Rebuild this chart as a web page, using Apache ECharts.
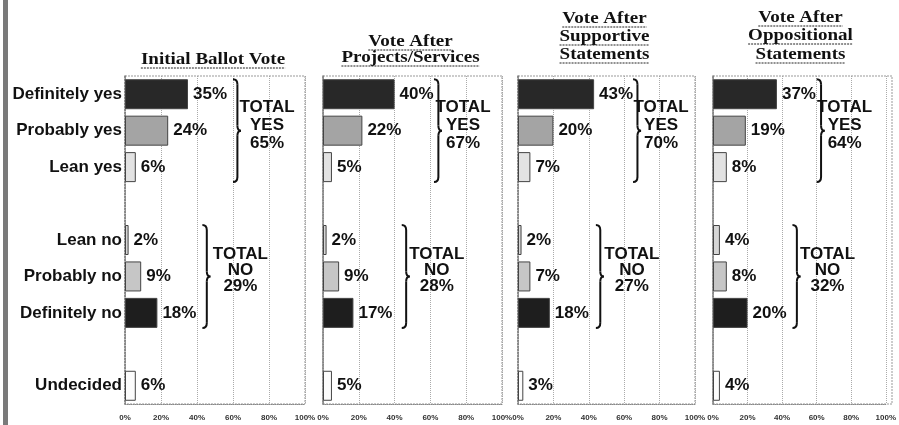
<!DOCTYPE html>
<html>
<head>
<meta charset="utf-8">
<script src="https://cdn.jsdelivr.net/npm/echarts@6/dist/echarts.min.js"></script>
<style>
  html, body { margin: 0; padding: 0; background: #fff; }
  #chart { width: 899px; height: 425px; }
</style>
</head>
<body>
<div id="chart"></div>
<script>
// Response categories (top to bottom)
const responses = ['Definitely yes', 'Probably yes', 'Lean yes', 'Lean no', 'Probably no', 'Definitely no', 'Undecided'];
// Percent per response, one array per ballot stage
const initialVote = [35, 24, 6, 2, 9, 18, 6];
const afterProjects = [40, 22, 5, 2, 9, 17, 5];
const afterSupportive = [43, 20, 7, 2, 7, 18, 3];
const afterOppositional = [37, 19, 8, 4, 8, 20, 4];
// Totals shown next to the braces
const totalYes = [65, 67, 70, 64];
const totalNo = [29, 28, 27, 32];
// Panel titles
const panelTitles = [
    ['Initial Ballot Vote'],
    ['Vote After', 'Projects/Services'],
    ['Vote After', 'Supportive', 'Statements'],
    ['Vote After', 'Oppositional', 'Statements']
];
// x axis tick labels
const tickLabels = ['0%', '20%', '40%', '60%', '80%', '100%'];

const stages = [initialVote, afterProjects, afterSupportive, afterOppositional];

// Layout of the four panels (pixels)
const panelLeft = [125, 323, 518, 713];
const panelWidth = [180, 179, 177, 179];
const panelTop = 76;
const panelHeight = 328;
// where the braces sit, in axis percent
const yesBraceAt = [60, 62, 65, 60];
const noBraceAt = [43, 44, 44, 46];
const textOffset = [34, 29, 28, 28];
const noTextOffset = [38, 35, 36, 35];
// title line centres (y) per panel
const titleY = [[60], [42, 58], [19, 37, 55], [18, 36, 55]];

const barColors = ['#282828', '#a4a4a4', '#e2e2e2', '#d6d6d6', '#c6c6c6', '#1e1e1e', '#fcfcfc'];
const sansFont = '"Liberation Sans", Arial, sans-serif';
const serifFont = '"Liberation Serif", "Times New Roman", serif';
const titleStretch = 1.12;

// y slots: two blank rows separate the groups
const slots = [responses[0], responses[1], responses[2], '', responses[3], responses[4], responses[5], ' ', responses[6]];
const slotIndex = [0, 1, 2, 4, 5, 6, 8];

function slotData(values) {
    const out = slots.map(() => null);
    values.forEach((v, i) => {
        out[slotIndex[i]] = {
            value: v,
            itemStyle: { color: barColors[i] }
        };
    });
    return out;
}

const chart = echarts.init(document.getElementById('chart'));

const grids = [], xAxes = [], yAxes = [], series = [];
stages.forEach((values, i) => {
    grids.push({ left: panelLeft[i], top: panelTop, width: panelWidth[i], height: panelHeight });
    xAxes.push({
        type: 'value', gridIndex: i, min: 0, max: 100, interval: 20,
        axisLine: { show: true, lineStyle: { color: '#888', type: 'dotted' } },
        axisTick: { show: false },
        splitLine: { show: true, lineStyle: { color: '#aaa', type: 'dotted' } },
        axisLabel: {
            formatter: v => tickLabels[v / 20],
            fontSize: 8, fontWeight: 'bold', color: '#333', margin: 10,
            fontFamily: sansFont, showMaxLabel: true, showMinLabel: true
        }
    });
    yAxes.push({
        type: 'category', gridIndex: i, data: slots, inverse: true,
        axisLine: { show: true, lineStyle: { color: '#777', type: 'dotted', width: 1.5 } },
        axisTick: { show: false },
        axisLabel: {
            show: i === 0, fontSize: 17, fontWeight: 'bold', color: '#111',
            fontFamily: sansFont, margin: 3
        }
    });
    series.push({
        type: 'bar', xAxisIndex: i, yAxisIndex: i,
        data: slotData(values),
        barWidth: 30,
        itemStyle: { borderColor: '#444', borderWidth: 1 },
        label: {
            show: true, position: 'right', distance: 5,
            formatter: p => p.value + '%',
            fontSize: 17, fontWeight: 'bold', color: '#111', fontFamily: sansFont
        },
        silent: true
    });
});

chart.setOption({
    animation: false,
    grid: grids,
    xAxis: xAxes,
    yAxis: yAxes,
    series: series
});

// text width for underlines
const measureCtx = document.createElement('canvas').getContext('2d');
measureCtx.font = 'bold 17px ' + serifFont;

// curly brace "}" made of lines and quadratic curves
function braceParts(x, y0, y1, ym) {
    const w = 8, r = 5, mx = x + w * 0.55;
    const st = { stroke: '#111', lineWidth: 2, fill: null };
    const curve = (x1, y1, cx, cy, x2, y2) => ({
        type: 'bezierCurve', silent: true, style: st,
        shape: { x1: x1, y1: y1, cpx1: cx, cpy1: cy, x2: x2, y2: y2 }
    });
    const seg = (x1, y1, x2, y2) => ({
        type: 'line', silent: true, style: st,
        shape: { x1: x1, y1: y1, x2: x2, y2: y2 }
    });
    return [
        curve(x, y0, mx, y0, mx, y0 + r),
        seg(mx, y0 + r, mx, ym - r),
        curve(mx, ym - r, mx, ym, x + w, ym),
        curve(x + w, ym, mx, ym, mx, ym + r),
        seg(mx, ym + r, mx, y1 - r),
        curve(mx, y1 - r, mx, y1, x, y1)
    ];
}

const graphics = [];
// left page border
graphics.push({ type: 'rect', shape: { x: 3, y: 0, width: 5, height: 425 }, style: { fill: '#7a7a7a' }, silent: true });

stages.forEach((values, i) => {
    // panel box
    graphics.push({
        type: 'rect',
        shape: { x: panelLeft[i], y: panelTop, width: panelWidth[i], height: panelHeight },
        style: { fill: null, stroke: '#999', lineWidth: 1, lineDash: [2, 1] },
        silent: true
    });
    // titles (scan is stretched sideways, so stretch the text too)
    const lines = panelTitles[i];
    const cx = panelLeft[i] + panelWidth[i] / 2 - 2;
    lines.forEach((t, k) => {
        const cy = titleY[i][k];
        const w = measureCtx.measureText(t).width * titleStretch;
        graphics.push({
            type: 'text', x: cx, y: cy, scaleX: titleStretch,
            style: { text: t, font: 'bold 17px ' + serifFont, fill: '#111', align: 'center', verticalAlign: 'middle' },
            silent: true
        });
        graphics.push({
            type: 'line', shape: { x1: cx - w / 2, y1: cy + 8, x2: cx + w / 2, y2: cy + 8 },
            style: { stroke: '#222', lineWidth: 1, lineDash: [2, 1] }, silent: true
        });
    });
    // braces with totals
    const px = (x, slot) => chart.convertToPixel({ gridIndex: i }, [x, slot]);
    const yTop = px(0, 0)[1] - 15, yMid = px(0, 1)[1], yBot = px(0, 2)[1] + 15;
    const bx = px(yesBraceAt[i], 0)[0];
    graphics.push(...braceParts(bx, yTop, yBot, yMid));
    graphics.push({
        type: 'text', x: bx + textOffset[i], y: yMid - 5,
        style: {
            text: 'TOTAL\nYES\n' + totalYes[i] + '%', font: 'bold 17px ' + sansFont,
            fill: '#111', align: 'center', verticalAlign: 'middle', lineHeight: 18
        },
        silent: true
    });
    const nTop = px(0, 4)[1] - 15, nMid = px(0, 5)[1], nBot = px(0, 6)[1] + 15;
    const nx = px(noBraceAt[i], 0)[0];
    graphics.push(...braceParts(nx, nTop, nBot, nMid));
    graphics.push({
        type: 'text', x: nx + noTextOffset[i], y: nMid - 6,
        style: {
            text: 'TOTAL\nNO\n' + totalNo[i] + '%', font: 'bold 17px ' + sansFont,
            fill: '#111', align: 'center', verticalAlign: 'middle', lineHeight: 16
        },
        silent: true
    });
});

chart.setOption({ graphic: graphics });
</script>
</body>
</html>
